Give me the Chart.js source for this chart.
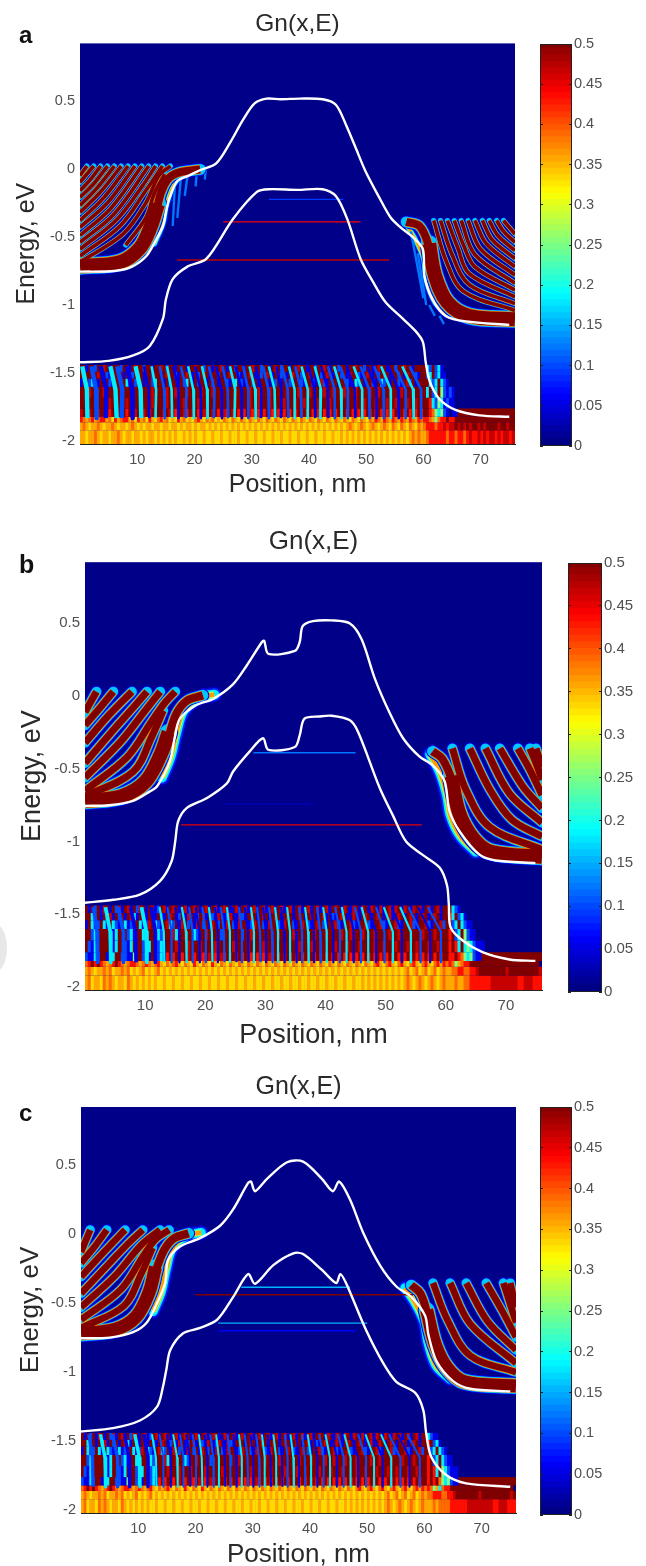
<!DOCTYPE html>
<html>
<head>
<meta charset="utf-8">
<title>Gn(x,E)</title>
<script src="https://cdn.jsdelivr.net/npm/chart.js@4/dist/chart.umd.min.js"></script>
<style>
  html, body { margin: 0; background: #fff; overflow: hidden; }
  #page { position: relative; width: 646px; height: 1566px; overflow: hidden; }
  #page canvas { position: absolute; filter: blur(0.55px); }
  #mark { position: absolute; left: -14px; top: 925px; width: 21px; height: 46px; border-radius: 50%; background: #e8e8e8; }
</style>
</head>
<body>
<div id="page"><div id="mark"></div></div>
<script>
// axis ticks
const xTicks = [10, 20, 30, 40, 50, 60, 70];
const yTicks = [0.5, 0, -0.5, -1, -1.5, -2];
const barTicks = [0, 0.05, 0.1, 0.15, 0.2, 0.25, 0.3, 0.35, 0.4, 0.45, 0.5];

// band edges, flat x,y lists
const aConduction = [0,-.755, 6,-.75, 9,-.72, 11.6,-.64, 13.3,-.52, 14.5,-.42, 15,-.32, 15.6,-.22, 17,-.09, 19,-.05, 21,-.01, 23.8,.04, 26.2,.19, 28.5,.36, 30.5,.48, 32.6,.515, 35,.51, 38.4,.515, 42.4,.51, 44.7,.47, 46.5,.32, 48.2,.15, 49.9,-.02, 52.4,-.22, 54.3,-.36, 56,-.43, 58.1,-.5, 59.9,-.59, 60.2,-.79, 61.6,-.96, 63.9,-1.08, 67.4,-1.12, 75,-1.146];
const aValence = [0,-1.42, 5,-1.41, 9.3,-1.37, 12.2,-1.3, 14.5,-1.1, 15,-.96, 16.2,-.81, 18.7,-.72, 22.1,-.66, 26.7,-.37, 30.9,-.17, 33,-.15, 38,-.155, 42.4,-.15, 44.7,-.2, 46.7,-.37, 49,-.66, 51.2,-.83, 53.4,-.98, 56.4,-1.1, 58.6,-1.19, 59.9,-1.27, 60.4,-1.42, 61.1,-1.56, 62.8,-1.69, 65.6,-1.77, 69.8,-1.81, 75,-1.82];
const bConduction = [0,-.755, 4,-.75, 8,-.72, 10.8,-.655, 12,-.62, 14.1,-.45, 15,-.27, 15.8,-.155, 18.6,-.06, 21.3,-.02, 24.6,.08, 26.9,.21, 29.4,.37, 29.8,.38, 30.5,.29, 34.9,.31, 35.7,.37, 36.2,.48, 37.9,.515, 41,.52, 44,.5, 46,.39, 48.2,.12, 50.6,-.11, 52.9,-.29, 55.6,-.415, 57.8,-.475, 59.8,-.585, 60.6,-.79, 62.3,-.93, 65.6,-1.09, 68.3,-1.13, 74.9,-1.148];
const bValence = [0,-1.42, 4.7,-1.4, 9.1,-1.365, 12.5,-1.27, 14.4,-1.135, 15,-1, 15.5,-.86, 16.9,-.77, 20.3,-.7, 23.6,-.6, 24.6,-.52, 27.4,-.38, 29.6,-.29, 30.5,-.37, 34.9,-.35, 35.7,-.27, 36.5,-.155, 39,-.14, 41,-.135, 44,-.165, 45.4,-.245, 49,-.63, 51.2,-.82, 53.4,-1, 56.1,-1.09, 59,-1.18, 60.2,-1.3, 60.5,-1.43, 60.8,-1.59, 62.8,-1.68, 66.1,-1.76, 70.6,-1.81, 74.9,-1.82];
const cConduction = [0,-.755, 5,-.75, 9.1,-.71, 11.5,-.64, 13.3,-.5, 14.7,-.355, 15.2,-.19, 17.3,-.09, 20.8,-.03, 24.3,.06, 26.6,.18, 29.2,.37, 29.7,.38, 30.4,.31, 32.5,.4, 36,.52, 38.8,.525, 42.1,.4, 44,.31, 45.1,.38, 47,.25, 49.3,.01, 52.3,-.23, 55.1,-.38, 57.7,-.455, 60.1,-.59, 60.7,-.73, 62.1,-.92, 65,-1.065, 68,-1.12, 75,-1.14];
const cValence = [0,-1.43, 5.6,-1.405, 10.3,-1.35, 13.3,-1.25, 14.3,-1.11, 14.9,-.985, 15.6,-.84, 17.8,-.72, 20.8,-.68, 23.8,-.62, 26.6,-.455, 29.2,-.29, 30.4,-.36, 33.6,-.225, 37.1,-.14, 38.8,-.145, 42.1,-.26, 44.6,-.355, 45.3,-.29, 46.3,-.355, 49.8,-.695, 52.8,-.935, 55.1,-1.07, 58.4,-1.15, 59.8,-1.275, 60.3,-1.44, 61.2,-1.615, 63.8,-1.745, 67.3,-1.805, 75,-1.83];

// interference fringes: each entry is one ridge of Gn, flat x,y list
const aLeftFringes = [
  [0,-.05, 1.2,.02], [0,-.1, 2.4,.02], [0,-.16, 1.8,-.08, 3.6,.02], [0,-.21, 2.4,-.11, 4.8,.02],
  [0,-.27, 3,-.14, 6,.02], [0,-.32, 3.6,-.17, 7.2,.02], [0,-.38, 4.2,-.21, 8.4,.02],
  [0,-.43, 4.8,-.25, 9.6,.02], [0,-.49, 5.4,-.29, 10.8,.02], [0,-.54, 6,-.33, 12,.02],
  [0,-.59, 6.5,-.37, 11,-.12, 13.2,.02], [0,-.64, 7,-.42, 11.5,-.16, 14.4,.02], [0,-.685, 7.5,-.48, 11.5,-.25, 13.8,-.05, 15.8,.02],
  [8,-.56, 11.5,-.36, 13,-.18, 14.8,-.04]
];
const aLeftRidge = [[0,-.715, 7,-.685, 10.5,-.58, 12.4,-.42, 13.6,-.26], [13.4,-.3, 14.2,-.17, 15.5,-.07, 17.5,-.025, 21,-.005]];
const aRightFringes = [
  [74,-.38, 76,-.48], [72.8,-.38, 74,-.46, 76,-.54], [71.5,-.38, 73,-.49, 76,-.6],
  [70.3,-.38, 72,-.52, 76,-.66], [69,-.38, 71,-.55, 76,-.72], [67.8,-.38, 70,-.59, 76,-.78], [66.6,-.38, 69,-.63, 76,-.84],
  [65.4,-.38, 67,-.56, 69,-.72, 76,-.89], [64.2,-.38, 66,-.58, 68,-.77, 76,-.94], [63,-.38, 65,-.63, 68,-.85, 76,-.99],
  [61.8,-.38, 64,-.68, 67,-.9, 76,-1.04]
];
const aRightRidge = [[61,-.55, 62,-.78, 64.2,-.98, 68,-1.08, 76,-1.105], [57,-.39, 59.3,-.42, 60.8,-.55, 61.4,-.72]];
const aComb = [[16.6,-.1, 16.2,-.42], [17.6,-.08, 17,-.36], [18.8,-.05, 18.3,-.2], [20.4,-.03, 20.2,-.13], [22,0, 21.8,-.08], [59,-.62, 60.5,-1], [57.8,-.46, 60,-.95], [61,-1, 62,-1.08], [62.8,-1.08, 63.6,-1.14]];
const aGlows = [[13,-.55, 14.5,-.4, 15.2,-.25, 17,-.08, 20.5,-.01], [57,-.41, 58.6,-.52, 60,-.66, 60.5,-.82, 62,-.98, 64,-1.07]];

const bLeftFringes = [
  [0,-.11, 1.9,.03], [0,-.2, 2.5,-.08, 4.7,.03], [0,-.32, 4,-.13, 7.8,.03],
  [0,-.46, 5,-.22, 8,-.08, 10.3,.03], [0,-.56, 6,-.31, 10,-.1, 12.5,.03], [0,-.65, 7,-.42, 11,-.18, 13.2,-.05, 15,.03],
  [0,-.69, 8,-.52, 11.2,-.27, 13,-.1]
];
const bLeftRidge = [[0,-.72, 6,-.69, 10,-.59, 12.6,-.4, 13.9,-.25], [13.9,-.28, 15.2,-.12, 17,-.03, 19.6,.005]];
const bRightFringes = [
  [75,-.36, 76,-.49], [74,-.36, 75,-.46, 76,-.575], [72,-.36, 73.9,-.5, 76,-.68],
  [69,-.36, 72.8,-.62, 76,-.77], [66.6,-.36, 70.6,-.67, 76,-.87], [64,-.36, 67.3,-.64, 71,-.85, 76,-.965],
  [61.1,-.36, 63.3,-.64, 67.3,-.9, 76,-1.055]
];
const bRightRidge = [[60.9,-.55, 62.2,-.8, 64.6,-.98, 67.5,-1.07, 76,-1.105], [57.8,-.38, 59.4,-.43, 61,-.58, 61.7,-.75]];
const bGlows = [[12.8,-.56, 14.2,-.42, 15.2,-.25, 16.4,-.1, 19,-.01, 21.5,.01], [57.4,-.4, 59,-.52, 60.2,-.68, 60.8,-.82, 62.4,-.96, 65,-1.07]];

const cLeftFringes = [
  [0,-.13, 1.6,.03], [0,-.21, 2.4,-.09, 4.5,.03], [0,-.31, 4,-.13, 7.7,.03],
  [0,-.43, 5,-.21, 8.2,-.07, 10.8,.03], [0,-.53, 6,-.3, 10.5,-.08, 13.8,.03], [0,-.62, 7,-.4, 11,-.15, 13,-.04, 15.4,.03],
  [0,-.68, 7.5,-.52, 10.6,-.28, 12.5,-.1]
];
const cLeftRidge = [[0,-.72, 6,-.69, 9.6,-.6, 11.9,-.42, 13,-.24], [13.1,-.26, 14.6,-.11, 16.3,-.03, 18.8,.005]];
const cRightFringes = [
  [75,-.355, 76,-.53], [73.8,-.355, 76,-.64], [70.8,-.355, 73.5,-.55, 76,-.746],
  [67.3,-.355, 71,-.63, 76,-.84], [64.5,-.355, 68,-.65, 76,-.935], [61.5,-.355, 64,-.62, 68,-.88, 76,-1]
];
const cRightRidge = [[60.4,-.55, 61.9,-.8, 64,-.97, 67,-1.07, 76,-1.1], [57.7,-.37, 59.3,-.43, 60.5,-.58, 61.2,-.75]];
const cGlows = [[12.6,-.56, 14,-.42, 14.9,-.25, 16,-.1, 18.6,-.01, 21,.01], [56.6,-.39, 58.4,-.5, 60,-.64, 60.6,-.78, 62,-.95, 64.5,-1.05]];

// discrete states: energy, x from, x to, Gn
const aLevels = [[-.225,33,46,.09], [-.39,25,49,.44], [-.67,17,54,.47]];
const bLevels = [[-.39,28,45,.12], [-.885,16,56,.45], [-.74,23,38,.025]];
const cLevels = [[-.385,28,47,.15], [-.44,20,58,.5], [-.645,24,50,.15], [-.7,24,48,.06]];

// streaks through the source region: x at the top edge, x mid way, x at the foot
const aStreaks = [.4,1.2,1.3, 2,2.8,2.9, 3.6,4.6,4.5, 5.3,6.2,6.4, 6.5,7.4,7.3, 8.2,9.1,9.2, 9.7,10.6,10.7, 11.2,12,12.1, 12.5,13.3,13.2, 13.9,14.7,14.8, 15.2,16,16.1, 16.3,17.2,17.2, 17.6,18.6,18.5, 18.9,19.8,19.9, 20.1,21.1,21.1, 21.3,22.2,22.3, 22.5,23.5,23.4, 23.8,24.7,24.8, 24.9,25.8,25.9, 26.2,27.1,27, 27.2,28.2,28.3, 28.5,29.4,29.4, 29.6,30.6,30.7, 30.7,31.7,31.6, 32,32.9,33, 33,34,34.1, 34.3,35.2,35.1, 35.3,36.3,36.4, 36.5,37.5,37.5, 37.6,38.6,38.7, 38.7,39.8,39.8, 39.9,41,41.1, 41,42.1,42, 42.1,43.3,43.4, 43.3,44.5,44.5, 44.4,45.6,45.7, 45.5,46.8,46.8, 46.6,48,48.1, 47.8,49.3,49.3, 49,50.5,50.6, 50.2,51.8,51.8, 51.4,53,53.1, 52.6,54.3,54.3, 53.9,55.6,55.7, 55,56.9,56.9, 56.3,58.2,58.3, 57.6,59.6,59.6];
const fineStreaks = [1.4,2,2.1, 3.4,4.2,4.3, 5.5,6.4,6.4, 7.6,8.4,8.5, 9.4,10.2,10.3, 11,11.7,11.7, 12.4,13.1,13.2, 13.7,14.4,14.4, 15,15.7,15.7, 16.1,16.8,16.9, 17.3,17.9,17.9, 18.4,19,19.1, 19.5,20.1,20.1, 20.6,21.1,21.2, 21.6,22.1,22.1, 22.6,23.1,23.2, 23.6,24.1,24.1, 24.6,25.1,25.2, 25.6,26.1,26.1, 26.6,27.1,27.2, 27.6,28.1,28.1, 28.6,29.1,29.2, 29.6,30.1,30.1, 30.6,31.1,31.2, 31.6,32.1,32.1, 32.6,33.1,33.2, 33.6,34.1,34.1, 34.6,35.1,35.2, 35.6,36.1,36.1, 36.6,37.1,37.2, 37.6,38.1,38.1, 38.6,39.1,39.2, 39.6,40.2,40.2, 40.6,41.3,41.3, 41.6,42.4,42.4, 42.7,43.5,43.5, 43.8,44.7,44.7, 44.9,45.9,45.9, 46,47.1,47.1, 47.1,48.4,48.4, 48.4,49.8,49.8, 49.7,51.2,51.2, 51,52.7,52.7, 52.4,54.2,54.2, 53.8,55.8,55.8, 55.4,57.4,57.4, 57,59.2,59.2];
const aStreakCodes = "clbclbcbclcblcbclblcblcblcblclcbcblclbclblcblclbl";
const fineStreakCodes = "lclbcbclbclblcblcblbclblcbcblcblcblcblcblcbclblcblcblcblcblclbcblcb";

// source region: Gn cells, one letter per 0.5 nm, rows from top down
const gnCodes = { n:0, b:.05, l:.1, c:.18, g:.25, y:.33, a:.355, o:.385, R:.43, r:.465, d:.5 };
const rowEdges = [-1.44,-1.49,-1.54,-1.6,-1.68,-1.76,-1.82,-1.86,-1.92,-2.02];
const aRows = [
  "ddbddlddrdbdddlddbdrddlddbddrdlddbdddbddrddlddbddrdbddlddbddrddlddbdrdlddbddrddbddlddrdbddlddbddrddlddbdrddbddlddrddbddd",
  "dlddbdrddlbddrdbddldrdbddlddbdrddlbddrdbdldrdbddldbdrddlbddrdbdldrdbddldbdrddlbdrdbdldrdbddldbrddlbdrdbdldrdbddldbrddlbd",
  "bddlcdbdddlbddldcbdlddbddlcddbdlddbdlcdbdlddbdldbddlbdcdlbddldbdddbdldbddlbddlbddlbdrlbdddbddlbdcldbddlbdcldbddlbdrldbdd",
  "dddrddddrdddddrdddrddddddrddddrddrdddrddddrdddrddrddddrddddrddrdddrdddddrdddrdddrddddrddrdddrdddrddddrddrdddrdddrdddrddd",
  "ddrdddddddrdddddrddddrdddrddddrdddddrddddrddrddddrddddrddddrddrdddrddddrdddrddrddddrdddrdddrddddrddrdddrdddrddrdddrddrdd",
  "rddrddrdddRdddrdRddrddrdRdrddRdrdRddrRdrdRdrRdrdRdrRdrdRdRdrRdRdRdrRdRdRdRdRdRdRdRdRdRdRdRdRdRdRdRdRdRdRdRdRdRdRdRdRdRdRd",
  "RoaoRaoRRaoyRaoRRaoyRaoyRayoRaoyayRaoyayoRayoaoyayoayoayoayoayoayoayoayoayoayoayoayoayoayoayoayoayoayoaRoaRoaRoaRoaRoaRoaRo",
  "aoayaaoayaaoayaayaoayayaayaayaayaayayaayayaayayayayayayayayayayayayayayayayayayayayayayayayayaoayaoayaoayaoayoayoayoayoayoay",
  "aayaaoayaayaaoayaayaayayaayayayayayyayayayyayyayyayyayyayyayyayyayyayyayyayyayyayyayyayyayyayayayayayayayayayayayayaoaoaoao"
];
const aTails = [
  "dcldlcb", "dlcdlcbbn", "ddclcdclbn", "dcdlcdglblbn", "ddRclgcblbbn",
  "ddRogcglbnbbdddddddddddddddddddd", "RRoagoRRdRRddddddddddddddddddddd",
  "oRRRoRRrRrrdrdrdrddrdrddddrddrdd", "aoRRRRRRoRRoRRoRrRRrRrRrrRrRrrRr"
];
const fineRows = [
  "dbdldbrdbdlrbdrbdlrdbdrbldrbdrdbdrbdrdbdrbdrbdrdbdrbdrbdrbdrbdrbdrbdrbdrbdrbdrbdrbdrdbrdbrdbrdbrdbrbdrbrdbrdbrdrbdrbdrbd",
  "ddcldbdcrbdldbdrcbdlbdrbdlbdrdbldbrdbldrbdlbrdblrdbrlbdrdbdrdbdrdbdrdbdrdbdrdbdrbdlbdrdbdrdbdrdbdrdbdrbdrdbdrdbdrdbdrdbdr",
  "bdcbldcbdclbdcblrdcblrdclbdrcldbrdldbrdldbrdldbrdlbrddblrddlbrddlbrddlbdrdlbdrdlbddrlbddrlbddrlbddrlbddrlbddrlbddrlbddrlb",
  "ddlcddddlbcdddlcbddcldddcldddrcddrddclddrddddlddddddlddrddddddddrddddrddddddrdddrddddrddrdddrdddrddddrddrdddrdddrdddrdddd",
  "dlbcddddbbcddlbcdddlbcddlcbdddrdddrdddrddddrdddddrddddrddddrddrdddrddddrdddrddrddddrdddrdddrddddrddrdddrdddrddrdddrddrddd",
  "lbbclddbbcddllbbgddlcbddlcbRdRddRdrdRdrRdrdRdrRdrdRdRdrRdRdRdrRdRdRdRdRdRdRdRdRdRdRdRdRdRdRdRdRdRdRdRdRdRdRdRdRdRdRdRdRd",
  "oRdRdRoaoRdRoaoRRoaoRoaoRayoaoRayoayRayoayRayoayoayoayoayoayoayoayoayoayoayoayoayoayoayoayoayoayoRayoRayoRayoRayoRayoRa",
  "aoayaaoaoyaaoaoyayaoyayaoyayayayayayayayayayayayayayayayayayayayayayayayayayayayayayayayayayayayayayayayayaoyaoyaoyaoyaoa",
  "aoyaayoaoayaayoayayayayayyayyayyayyayyayyayyayyayyayyayyayyayyayyayyayyayyayyayyayyayyayyayyayayayayayayayaoayaoayaoayao"
];
const bTails = [
  "ddclbn", "dRcdlcbn", "ddlcdclbbn", "dRdlcdglbbn", "dRdRcdcgclbbbn",
  "dRRdRogcglbbdddddddddddddddddddd", "RoRogaoRRddddddddddddddddddddddd",
  "aaooRRooRRrdddddddddrddddddddddr", "aaaoaaooRRRRRRRrrrrrrrrrRRrrrRRR"
];
const cTails = [
  "dclbbn", "dRdlcbn", "ddlcdclbn", "dRdlcdclbbn", "dRdRcdgclbbbn",
  "dRdRdogcglbbdddddddddddddddddddd", "RoRogacoRRdddddddddddddddddddddd",
  "aooRRRooRRrddddddddrddddddddddrd", "aaaoaooooRRRRRRrrrrrrrrrRRrrrRRR"
];

// page layout, px
const panels = [
  { letter:'a', letterY:43, letterSize:24, top:0, height:505, plot:[80,515,43.5,444], bar:[540,572,43.5,446],
    titleSize:24.5, labelSize:25, tickSize:14.5, xLabelGap:20, yLabelX:12, titlePad:[10,4],
    conduction:aConduction, valence:aValence, left:aLeftFringes, leftRidge:aLeftRidge, right:aRightFringes, rightRidge:aRightRidge, comb:aComb, glows:aGlows, glowSize:8,
    levels:aLevels, rows:aRows, tails:aTails, streaks:aStreaks, streakCodes:aStreakCodes, streakWidth:2.6, stripe:3.6, ridge:[14,8] },
  { letter:'b', letterY:573, letterSize:25, top:505, height:555, plot:[85,542,563,990], bar:[568,602,563,992],
    titleSize:26, labelSize:27, tickSize:15, xLabelGap:24, yLabelX:16, titlePad:[21,5],
    conduction:bConduction, valence:bValence, left:bLeftFringes, leftRidge:bLeftRidge, right:bRightFringes, rightRidge:bRightRidge, comb:[], glows:bGlows, glowSize:16,
    levels:bLevels, rows:fineRows, tails:bTails, streaks:fineStreaks, streakCodes:fineStreakCodes, streakWidth:2.2, stripe:7, ridge:[14,8] },
  { letter:'c', letterY:1121, letterSize:24, top:1060, height:520, plot:[81,516,1107,1513], bar:[540,572,1107,1515],
    titleSize:25, labelSize:26, tickSize:14.5, xLabelGap:25, yLabelX:15, titlePad:[12,5],
    conduction:cConduction, valence:cValence, left:cLeftFringes, leftRidge:cLeftRidge, right:cRightFringes, rightRidge:cRightRidge, comb:[], glows:cGlows, glowSize:15,
    levels:cLevels, rows:fineRows, tails:cTails, streaks:fineStreaks, streakCodes:fineStreakCodes, streakWidth:2, stripe:6.6, ridge:[13,8] }
];

const fontFamily = '"Liberation Sans", Arial, sans-serif';
const inkColor = '#2a2a2a';
const tickColor = '#505050';

// same colormap as the colorbar, Gn 0..0.5
function jet(gn) {
  const t = gn / 0.5;
  const part = (c) => Math.round(255 * Math.max(0, Math.min(1, 1.5 - Math.abs(4 * t - c))));
  return 'rgb(' + part(3) + ',' + part(2) + ',' + part(1) + ')';
}

function toPoints(flat) {
  const pts = [];
  for (let i = 0; i < flat.length; i += 2) {
    pts.push({ x: flat[i], y: flat[i + 1] });
  }
  return pts;
}

function lineSet(flat, color, width, order, tension, cap) {
  return {
    type: 'scatter', showLine: true, data: toPoints(flat), borderColor: color, borderWidth: width,
    pointRadius: 0, tension: tension, order: order, borderCapStyle: cap || 'butt', borderJoinStyle: 'round'
  };
}

function ridgeSets(list, width) {
  const sets = [];
  const halo = Math.min(width * 0.7, 5);
  list.forEach((flat) => {
    sets.push(lineSet(flat, jet(.05), width + halo, 60, .35, 'round'));
    sets.push(lineSet(flat, jet(.16), width + halo * 0.6, 50, .35, 'round'));
    sets.push(lineSet(flat, jet(.37), width + halo * 0.25, 40, .35));
    sets.push(lineSet(flat, jet(.5), width, 30, .35));
  });
  return sets;
}

// rainbow rim just outside the band edge
function glowSets(list, size) {
  const sets = [];
  list.forEach((flat) => {
    sets.push(lineSet(flat, jet(.03), size, 69, .35, 'round'));
    sets.push(lineSet(flat, jet(.08), size * 0.82, 68, .35, 'round'));
    sets.push(lineSet(flat, jet(.18), size * 0.62, 67, .35, 'round'));
    sets.push(lineSet(flat, jet(.27), size * 0.42, 66, .35));
    sets.push(lineSet(flat, jet(.36), size * 0.28, 65, .35));
  });
  return sets;
}

function cellSets(rows, tails) {
  const sets = [];
  rows.forEach((row, r) => {
    const codes = row.slice(0, 120) + tails[r];
    const cells = [], colors = [];
    for (let i = 0; i < codes.length; i++) {
      cells.push({ x: i * 0.5 + 0.25, y: [rowEdges[r + 1], rowEdges[r]] });
      colors.push(jet(gnCodes[codes[i]]));
    }
    sets.push({ type: 'bar', data: cells, backgroundColor: colors, borderWidth: 0, grouped: false,
      categoryPercentage: 1, barPercentage: 1.2, order: 70 });
  });
  return sets;
}

function streakSets(p) {
  const sets = [];
  for (let i = 0; i * 3 < p.streaks.length; i++) {
    const top = p.streaks[i * 3], mid = p.streaks[i * 3 + 1], foot = p.streaks[i * 3 + 2];
    const code = p.streakCodes[i] || 'l';
    const width = mid < 12 ? p.streakWidth * 1.7 : p.streakWidth;
    sets.push(lineSet([top,-1.45, mid,-1.62, foot,-1.83], jet(gnCodes[code]), width, 20, 0));
  }
  return sets;
}

function makeCanvas(left, top, width, height) {
  const c = document.createElement('canvas');
  c.width = width; c.height = height;
  c.style.left = left + 'px'; c.style.top = top + 'px';
  c.style.width = width + 'px'; c.style.height = height + 'px';
  document.getElementById('page').appendChild(c);
  return c;
}

// navy floor of the map, panel letter on top
const mapPlugin = {
  id: 'mapPlugin',
  beforeDatasetsDraw(chart) {
    const a = chart.chartArea, ctx = chart.ctx;
    ctx.save();
    ctx.fillStyle = jet(.004);
    ctx.fillRect(a.left, a.top, a.right - a.left, a.bottom - a.top);
    ctx.restore();
  },
  afterDraw(chart, args, opts) {
    const ctx = chart.ctx;
    ctx.save();
    ctx.fillStyle = '#111';
    ctx.font = 'bold ' + opts.size + 'px ' + fontFamily;
    ctx.textBaseline = 'alphabetic';
    ctx.fillText(opts.letter, 19, opts.y);
    ctx.restore();
  }
};

function drawMap(p) {
  const w = 646;
  const canvas = makeCanvas(0, p.top, w, p.height);
  const sets = [
    lineSet(p.conduction, '#fff', 2.4, 1, .3),
    lineSet(p.valence, '#fff', 2.4, 1, .3)
  ];
  p.levels.forEach((l) => {
    sets.push(lineSet([l[1], l[0], l[2], l[0]], jet(l[3]), 1.4, 5, 0));
  });
  p.comb.forEach((flat) => {
    sets.push(lineSet(flat, jet(.12), 2.4, 65, .2));
  });
  const fringes = ridgeSets(p.left, p.stripe).concat(ridgeSets(p.right, p.stripe));
  const mains = ridgeSets(p.leftRidge.slice(0, 1), p.ridge[0]).concat(ridgeSets(p.leftRidge.slice(1), p.ridge[1]),
    ridgeSets(p.rightRidge.slice(0, 1), p.ridge[0]), ridgeSets(p.rightRidge.slice(1), p.ridge[1]));

  return new Chart(canvas, {
    type: 'scatter',
    data: { datasets: sets.concat(glowSets(p.glows, p.glowSize), fringes, mains, streakSets(p), cellSets(p.rows, p.tails)) },
    plugins: [mapPlugin],
    options: {
      responsive: false,
      animation: false,
      layout: { padding: { right: w - p.plot[1] } },
      plugins: {
        legend: { display: false },
        tooltip: { enabled: false },
        mapPlugin: { letter: p.letter, y: p.letterY - p.top, size: p.letterSize },
        title: {
          display: true, text: 'Gn(x,E)', color: inkColor, fullSize: false,
          font: { family: fontFamily, size: p.titleSize, weight: 'normal', lineHeight: 1.2 },
          padding: { top: p.titlePad[0], bottom: p.titlePad[1] }
        }
      },
      scales: {
        x: {
          type: 'linear', min: 0, max: 76, offset: false,
          grid: { display: false, drawTicks: false },
          border: { color: '#222', width: 1 },
          afterBuildTicks: (s) => { s.ticks = xTicks.map((v) => ({ value: v })); },
          afterFit: (s) => { s.height = p.top + p.height - p.plot[3]; },
          ticks: { color: tickColor, padding: 7, maxRotation: 0, font: { family: fontFamily, size: p.tickSize } },
          title: { display: true, text: 'Position, nm', color: inkColor,
            font: { family: fontFamily, size: p.labelSize, lineHeight: 1.2 }, padding: { top: 0, bottom: p.xLabelGap - p.labelSize * 0.6 } }
        },
        y: {
          type: 'linear', min: -2.02, max: 0.92,
          grid: { display: false, drawTicks: false },
          border: { display: false },
          afterBuildTicks: (s) => { s.ticks = yTicks.map((v) => ({ value: v })); },
          afterFit: (s) => { s.width = p.plot[0]; },
          ticks: { color: tickColor, padding: 5, font: { family: fontFamily, size: p.tickSize },
            callback: (v) => String(v) },
          title: { display: true, text: 'Energy, eV', color: inkColor,
            font: { family: fontFamily, size: p.labelSize, lineHeight: 1.2 }, padding: { top: p.yLabelX, bottom: 0 } }
        }
      }
    }
  });
}

const framePlugin = {
  id: 'framePlugin',
  afterDraw(chart) {
    const a = chart.chartArea, ctx = chart.ctx;
    ctx.save();
    ctx.strokeStyle = '#222';
    ctx.lineWidth = 1;
    ctx.strokeRect(a.left + 0.5, a.top + 0.5, a.right - a.left - 1, a.bottom - a.top - 1);
    ctx.restore();
  }
};

function drawBar(p) {
  const margin = 14;
  const barW = p.bar[1] - p.bar[0];
  const canvas = makeCanvas(p.bar[0], p.bar[2] - margin, 646 - p.bar[0], p.bar[3] - p.bar[2] + margin * 2);
  const sets = [];
  for (let i = 0; i < 64; i++) {
    const lo = i * 0.5 / 64, hi = (i + 1) * 0.5 / 64;
    sets.push({ data: [[lo, Math.min(hi + 0.002, 0.5)]], backgroundColor: jet((lo + hi) / 2),
      borderWidth: 0, grouped: false, categoryPercentage: 1, barPercentage: 1 });
  }
  return new Chart(canvas, {
    type: 'bar',
    data: { labels: ['Gn'], datasets: sets },
    plugins: [framePlugin],
    options: {
      responsive: false,
      animation: false,
      layout: { padding: { top: margin, bottom: margin } },
      plugins: { legend: { display: false }, tooltip: { enabled: false } },
      scales: {
        x: { display: false },
        y: {
          position: 'right', min: 0, max: 0.5,
          border: { display: false, dash: [3, barW - 6] },
          grid: { color: '#222', z: 1, drawTicks: false },
          afterBuildTicks: (s) => { s.ticks = barTicks.map((v) => ({ value: v })); },
          afterFit: (s) => { s.width = 646 - p.bar[1]; },
          ticks: { color: tickColor, padding: 2, font: { family: fontFamily, size: p.tickSize },
            callback: (v) => String(v) }
        }
      }
    }
  });
}

panels.forEach((p) => {
  drawMap(p);
  drawBar(p);
});
</script>
</body>
</html>
